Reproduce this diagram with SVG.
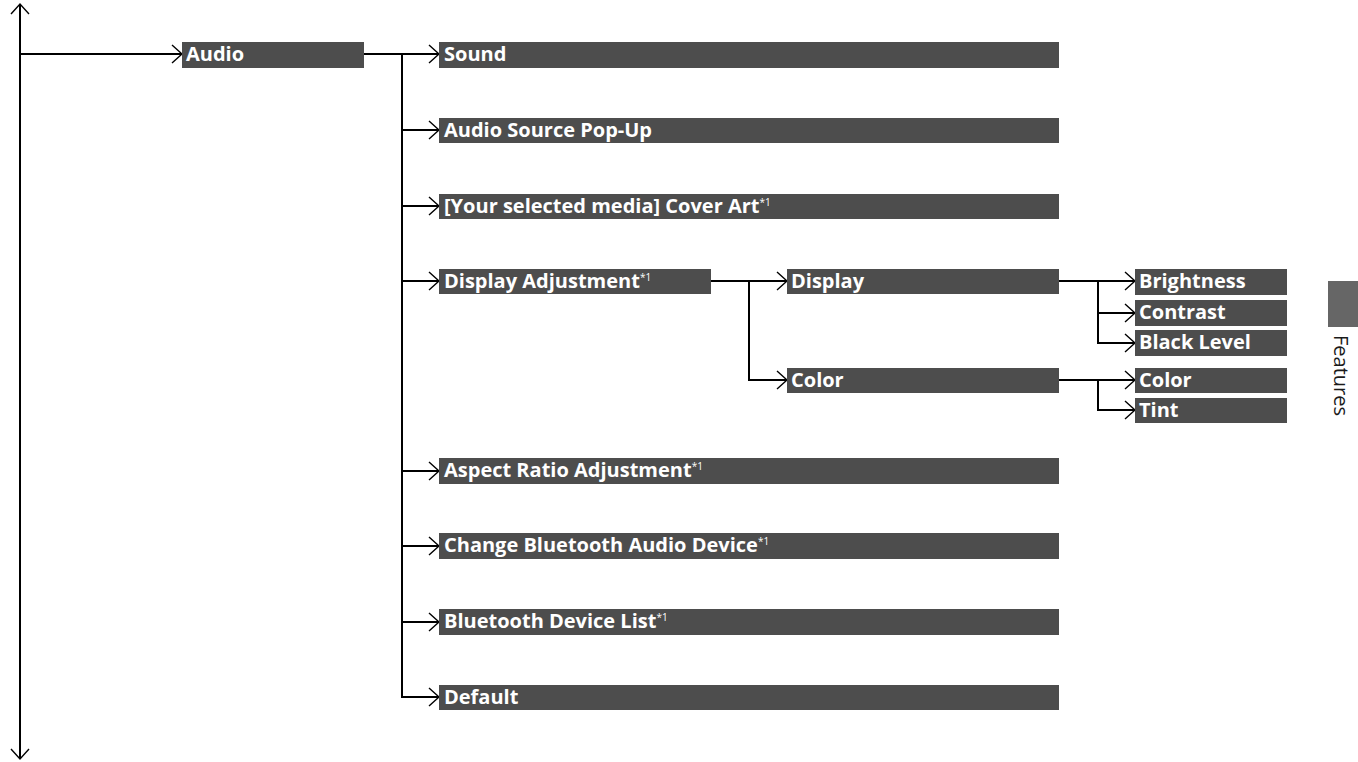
<svg xmlns="http://www.w3.org/2000/svg" width="1358" height="762" viewBox="0 0 1358 762">
<style>
.box{fill:#4d4d4d}
.t{fill:#fff;font-family:"Open Sans","Noto Sans",sans-serif;font-weight:bold;font-size:20px}
.sup{font-size:10px;font-weight:normal}
.ln{fill:none;stroke:#000;stroke-width:2}
.ar{fill:none;stroke:#000;stroke-width:2;marker-end:url(#chev)}
</style>
<defs>
<marker id="chev" markerUnits="userSpaceOnUse" viewBox="-11 -10 13 20" refX="0" refY="0" markerWidth="13" markerHeight="20" orient="auto" overflow="visible">
<path d="M-10,-9 L0,0 L-10,9" fill="none" stroke="#000" stroke-width="1.4"/>
</marker>
</defs>
<g id="connectors">
<line class="ar" x1="20" y1="380" x2="20" y2="4"/>
<line class="ar" x1="20" y1="380" x2="20" y2="759"/>
<line class="ar" x1="20" y1="54" x2="182" y2="54"/>
<line class="ln" x1="364" y1="54" x2="402" y2="54"/>
<line class="ln" x1="402" y1="54" x2="402" y2="698"/>
<line class="ar" x1="402" y1="54" x2="439" y2="54"/>
<line class="ar" x1="402" y1="130" x2="439" y2="130"/>
<line class="ar" x1="401" y1="206" x2="439" y2="206"/>
<line class="ar" x1="401" y1="281" x2="439" y2="281"/>
<line class="ar" x1="401" y1="471" x2="439" y2="471"/>
<line class="ar" x1="401" y1="546" x2="439" y2="546"/>
<line class="ar" x1="401" y1="622" x2="439" y2="622"/>
<line class="ar" x1="401" y1="697" x2="439" y2="697"/>
<line class="ln" x1="711" y1="281" x2="749" y2="281"/>
<line class="ln" x1="749" y1="281" x2="749" y2="381"/>
<line class="ar" x1="749" y1="281" x2="787" y2="281"/>
<line class="ar" x1="748" y1="380" x2="787" y2="380"/>
<line class="ln" x1="1059" y1="281" x2="1098" y2="281"/>
<line class="ln" x1="1098" y1="281" x2="1098" y2="344"/>
<line class="ar" x1="1098" y1="281" x2="1135" y2="281"/>
<line class="ar" x1="1097" y1="313" x2="1135" y2="313"/>
<line class="ar" x1="1097" y1="343" x2="1135" y2="343"/>
<line class="ln" x1="1059" y1="380" x2="1098" y2="380"/>
<line class="ln" x1="1098" y1="380" x2="1098" y2="411"/>
<line class="ar" x1="1098" y1="380" x2="1135" y2="380"/>
<line class="ar" x1="1097" y1="410" x2="1135" y2="410"/>
</g>
<g id="audio"><rect class="box" x="182" y="42" width="182" height="26"/><text class="t" x="186" y="61">Audio</text></g>
<g id="sound"><rect class="box" x="439" y="42" width="620" height="26"/><text class="t" x="444" y="61">Sound</text></g>
<g id="popup"><rect class="box" x="439" y="118" width="620" height="25"/><text class="t" x="444" y="137">Audio Source Pop-Up</text></g>
<g id="coverart"><rect class="box" x="439" y="194" width="620" height="25"/><text class="t" x="444" y="213">[Your selected media] Cover Art<tspan class="sup" dy="-7">*1</tspan></text></g>
<g id="dispadj"><rect class="box" x="439" y="269" width="272" height="25"/><text class="t" x="444" y="288">Display Adjustment<tspan class="sup" dy="-7">*1</tspan></text></g>
<g id="display"><rect class="box" x="787" y="269" width="272" height="25"/><text class="t" x="791" y="288">Display</text></g>
<g id="color"><rect class="box" x="787" y="368" width="272" height="25"/><text class="t" x="791" y="387">Color</text></g>
<g id="brightness"><rect class="box" x="1135" y="269" width="152" height="26"/><text class="t" x="1139" y="288">Brightness</text></g>
<g id="contrast"><rect class="box" x="1135" y="300" width="152" height="26"/><text class="t" x="1139" y="319">Contrast</text></g>
<g id="blacklevel"><rect class="box" x="1135" y="330" width="152" height="26"/><text class="t" x="1139" y="349">Black Level</text></g>
<g id="color2"><rect class="box" x="1135" y="368" width="152" height="25"/><text class="t" x="1139" y="387">Color</text></g>
<g id="tint"><rect class="box" x="1135" y="398" width="152" height="25"/><text class="t" x="1139" y="417">Tint</text></g>
<g id="aspect"><rect class="box" x="439" y="458" width="620" height="26"/><text class="t" x="444" y="477">Aspect Ratio Adjustment<tspan class="sup" dy="-7">*1</tspan></text></g>
<g id="changebt"><rect class="box" x="439" y="533" width="620" height="26"/><text class="t" x="444" y="552">Change Bluetooth Audio Device<tspan class="sup" dy="-7">*1</tspan></text></g>
<g id="btlist"><rect class="box" x="439" y="609" width="620" height="26"/><text class="t" x="444" y="628">Bluetooth Device List<tspan class="sup" dy="-7">*1</tspan></text></g>
<g id="default"><rect class="box" x="439" y="685" width="620" height="25"/><text class="t" x="444" y="704">Default</text></g>
<g id="features-tab"><rect x="1328" y="281" width="30" height="46" fill="#666"/><text x="0" y="0" transform="translate(1334,335) rotate(90)" font-family="'Open Sans','Noto Sans',sans-serif" font-size="20" fill="#1a1a1a">Features</text></g>
</svg>
